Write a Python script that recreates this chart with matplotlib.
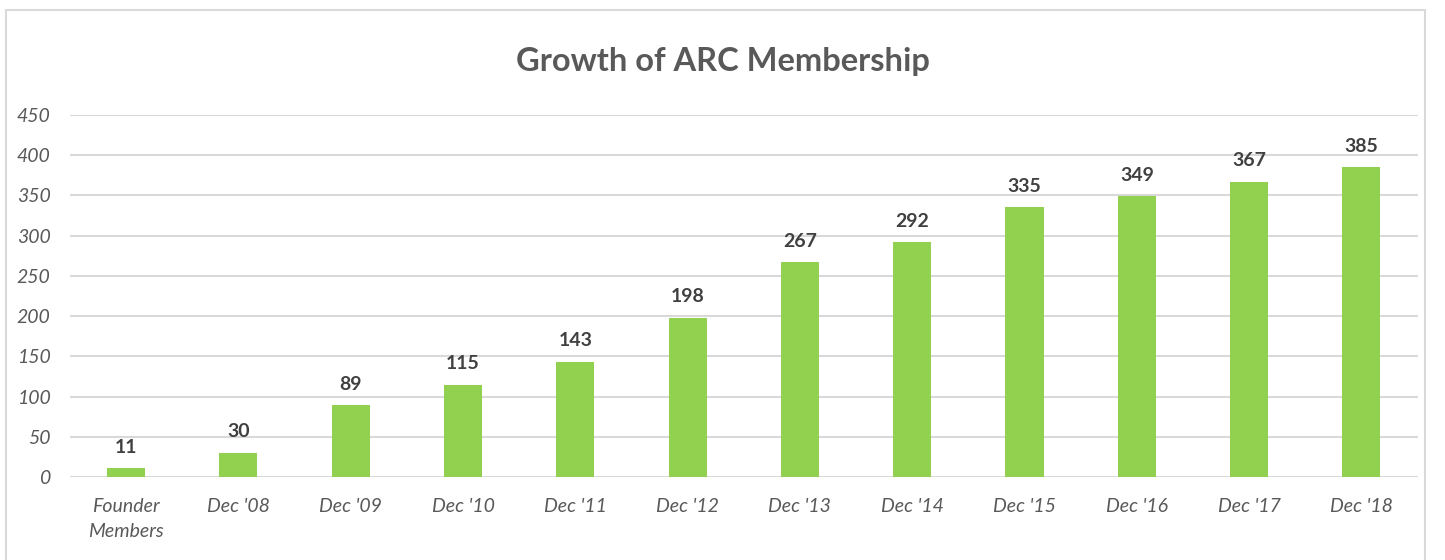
import matplotlib
matplotlib.use("Agg")
import matplotlib.pyplot as plt
from matplotlib.patches import Rectangle

# 数据
categories = ["Founder\nMembers", "Dec '08", "Dec '09", "Dec '10", "Dec '11", "Dec '12",
              "Dec '13", "Dec '14", "Dec '15", "Dec '16", "Dec '17", "Dec '18"]
members = [11, 30, 89, 115, 143, 198, 267, 292, 335, 349, 367, 385]
y_ticks = [0, 50, 100, 150, 200, 250, 300, 350, 400, 450]

plt.rcParams["font.family"] = ["Lato", "DejaVu Sans"]
grey = "#595959"

fig = plt.figure(figsize=(14.45, 5.6), dpi=100)
ax = fig.add_axes([0.0484, 0.148, 0.9326, 0.647])

# 外框
fig.patches.append(Rectangle((0.004, -0.05), 0.982, 1.032, transform=fig.transFigure,
                             fill=False, edgecolor="#D9D9D9", linewidth=1.5))

x = list(range(len(categories)))
bars = ax.bar(x, members, width=0.34, color="#92D050", zorder=3)

for xi, v in zip(x, members):
    ax.annotate(str(v), (xi, v), xytext=(0, 9), textcoords="offset points",
                ha="center", va="bottom", fontsize=14, fontweight="bold", color="#404040")

ax.set_xlim(-0.5, len(categories) - 0.5)
ax.set_ylim(0, 450)
ax.set_yticks(y_ticks)
ax.set_xticks(x)
ax.set_xticklabels(categories, fontsize=14, style="italic", color=grey, linespacing=1.6)
ax.tick_params(axis="y", labelsize=14, colors=grey, length=0, pad=14)
ax.tick_params(axis="x", length=0, pad=15)
for lbl in ax.get_yticklabels():
    lbl.set_fontstyle("italic")

ax.grid(axis="y", color="#D9D9D9", linewidth=1.5, zorder=0)
for s in ax.spines.values():
    s.set_visible(False)

fig.text(0.5, 0.89, "Growth of ARC Membership", ha="center", va="center",
         fontsize=23.5, fontweight="bold", color=grey)

plt.savefig("out.png", dpi=100)
